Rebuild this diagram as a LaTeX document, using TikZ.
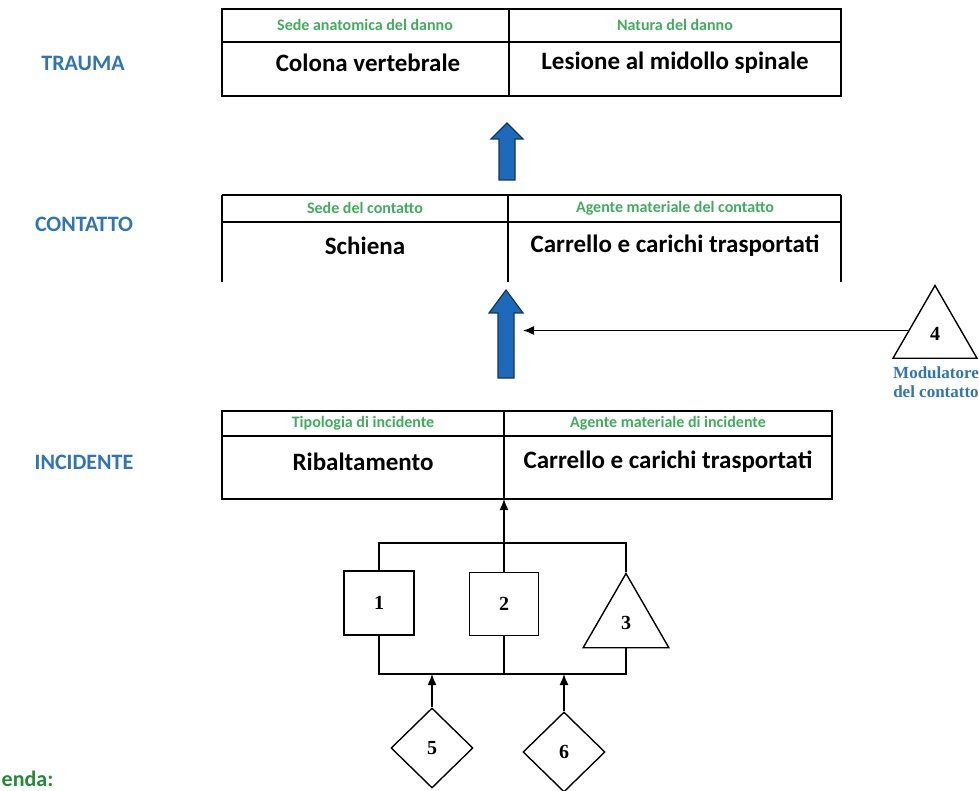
\documentclass[tikz,border=0pt]{standalone}
\usepackage{fontspec}
\setmainfont{Carlito}
\newfontfamily\numfont{Liberation Serif}
\usetikzlibrary{shapes.geometric, arrows.meta, calc}

\definecolor{headgreen}{RGB}{64,173,92}
\definecolor{levelblue}{RGB}{46,117,182}
\definecolor{arrowblue}{RGB}{30,106,186}
\definecolor{arrowedge}{RGB}{22,52,96}
\definecolor{legendgreen}{RGB}{34,139,54}

\begin{document}
\begin{tikzpicture}[x=1pt, y=-1pt, line width=1.4pt,
    cell/.style={font=\fontsize{25}{29}\selectfont\bfseries},
    head/.style={text=headgreen, font=\fontsize{16}{19}\selectfont\bfseries},
    level/.style={text=levelblue, font=\fontsize{22}{26}\selectfont\bfseries},
    num/.style={font=\fontsize{20}{22}\selectfont\numfont\bfseries},
    box/.style={draw, inner sep=0pt, minimum width=70pt, minimum height=64pt, num},
    tri/.style={draw, regular polygon, regular polygon sides=3, inner sep=0pt, num},
    rhomb/.style={draw, diamond, inner sep=0pt, minimum width=82pt, minimum height=80pt, num},
    arr/.style={-{Latex[length=11pt, width=9pt]}},
    bluearrow/.style={fill=arrowblue, draw=arrowedge, line width=1.2pt}]

    \useasboundingbox (0,0) rectangle (979,791);

    % Levels
    \node[level] (trauma) at (83,63) {TRAUMA};
    \node[level] (contatto) at (84,224) {CONTATTO};
    \node[level] (incidente) at (84,462) {INCIDENTE};

    %% Trauma table
    \begin{scope}
        \draw (222,9) rectangle (841,96);
        \draw (222,42) -- (841,42);
        \draw (509,9) -- (509,96);
        \node[head] (sedeanat) at (365,25) {Sede anatomica del danno};
        \node[head] (natura) at (675,25) {Natura del danno};
        \node[cell] (colonna) at (368,63) {Colona vertebrale};
        \node[cell] (lesione) at (675,63) {Lesione al midollo spinale};
    \end{scope}

    %% Contatto table (open at the bottom)
    \begin{scope}
        \draw (222,195) -- (841,195);
        \draw (222,222) -- (841,222);
        \draw (222,195) -- (222,282);
        \draw (508,195) -- (508,282);
        \draw (841,195) -- (841,282);
        \node[head] (sedecont) at (365,208) {Sede del contatto};
        \node[head] (agentecont) at (675,208) {Agente materiale del contatto};
        \node[cell] (schiena) at (365,246) {Schiena};
        \node[cell] (carrello1) at (675,246) {Carrello e carichi trasportati};
    \end{scope}

    %% Incidente table
    \begin{scope}
        \draw (222,411) rectangle (832,499);
        \draw (222,436) -- (832,436);
        \draw (504,411) -- (504,499);
        \node[head] (tipologia) at (363,423) {Tipologia di incidente};
        \node[head] (agenteinc) at (668,423) {Agente materiale di incidente};
        \node[cell] (ribalt) at (363,462) {Ribaltamento};
        \node[cell] (carrello2) at (668,462) {Carrello e carichi trasportati};
        \coordinate (t3d) at (504,499);
    \end{scope}

    % Blue arrows between levels
    \draw[bluearrow] (499,180) -- (499,139) -- (491,139) -- (507,123)
        -- (523,139) -- (515,139) -- (515,180) -- cycle;
    \draw[bluearrow] (498,378) -- (498,313) -- (489,313) -- (506,290)
        -- (523,313) -- (514,313) -- (514,378) -- cycle;
    \coordinate (a2r) at (523,330);

    % Modulatore del contatto
    \node[tri, minimum size=97pt] (m4) at (935,334) {4};
    \node[text=levelblue, font=\fontsize{17}{19}\selectfont\numfont\bfseries,
        align=center] (modlabel) at (936,382) {Modulatore\\del contatto};
    \coordinate (m4in) at ($(m4.corner 1)!0.62!(m4.corner 2)$);
    \draw[arr] (m4in) -- (m4in -| a2r);

    % Factors 1, 2, 3
    \node[box] (b1) at (379,603) {1};
    \node[box, minimum width=69pt, minimum height=63pt] (b2) at (504,604) {2};
    \node[tri, minimum size=99pt] (m3) at (626,623) {3};
    \coordinate (bustop) at (504,543);
    \coordinate (busbot) at (504,674);
    \draw (b1.north) |- (bustop) -| (m3.corner 1);
    \draw[arr] (b2.north) -- (t3d);
    \draw (b1.south) |- (busbot) -| (m3.side 2);
    \draw (b2.south) -- (busbot);

    % Determinants 5, 6
    \node[rhomb] (d5) at (432,748) {5};
    \node[rhomb] (d6) at (564,752) {6};
    \draw[arr] (d5.north) -- (d5.north |- busbot);
    \draw[arr] (d6.north) -- (d6.north |- busbot);

    % Legend
    \node[anchor=west, inner sep=0pt, text=legendgreen,
        font=\fontsize{22}{26}\selectfont\bfseries] (legenda) at (1,779) {enda:};

\end{tikzpicture}
\end{document}
